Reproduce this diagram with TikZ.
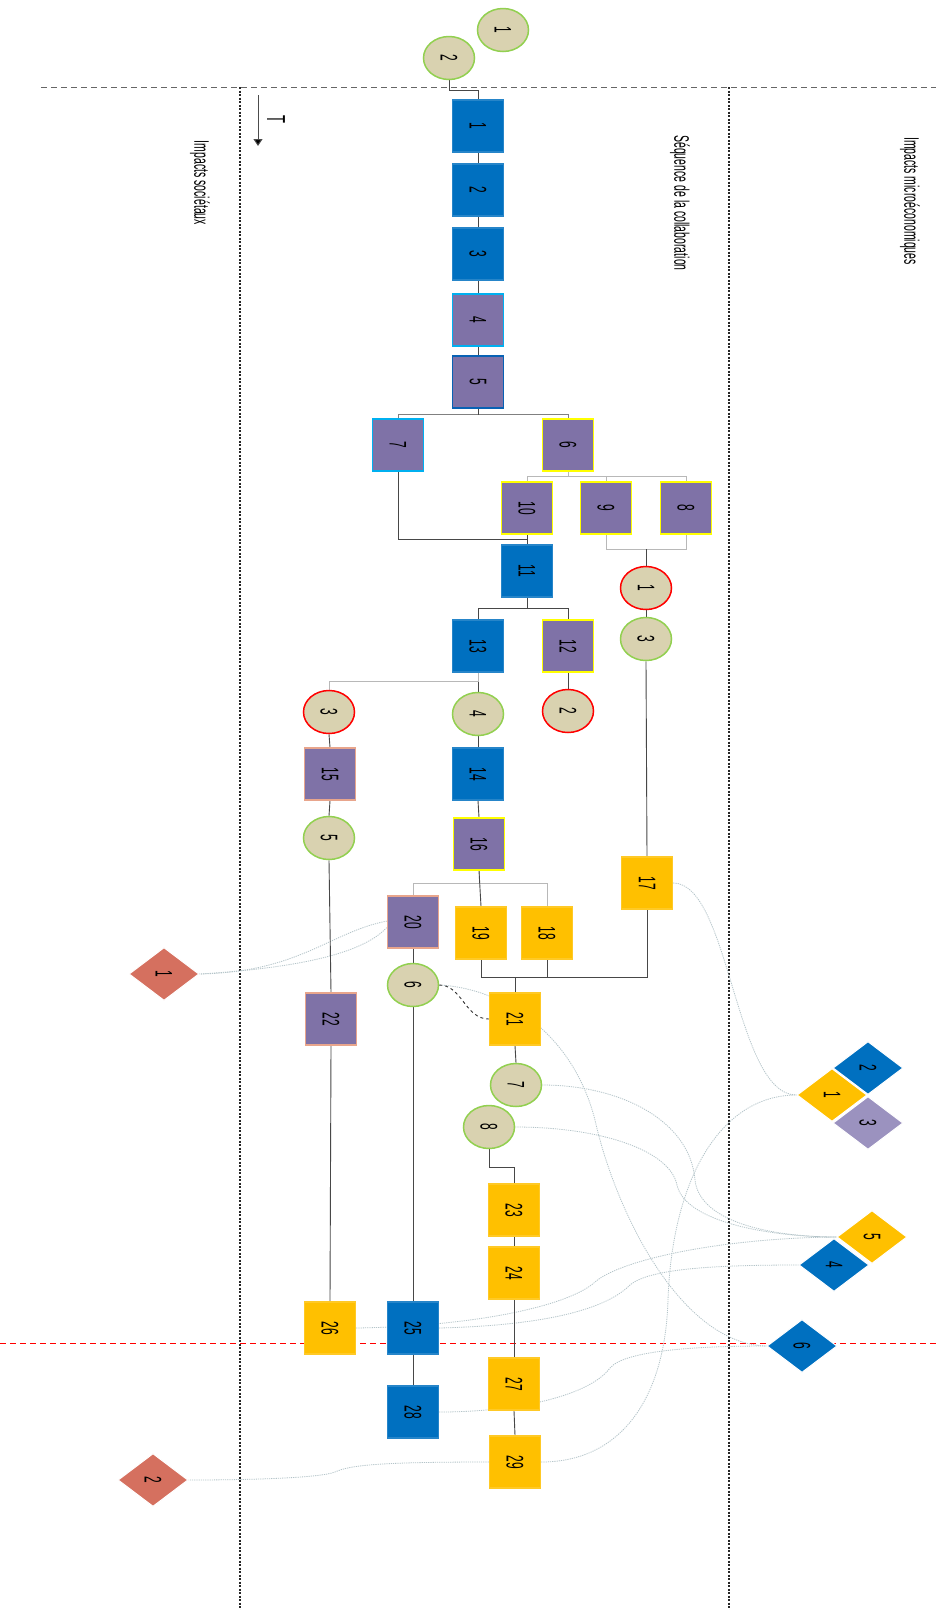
\documentclass[tikz,border=0pt]{standalone}
\usepackage{fontspec}
\setmainfont{Liberation Sans}
\usepackage{graphicx}
\usetikzlibrary{shapes.geometric,arrows.meta,calc}
\pgfdeclarelayer{bg}
\pgfsetlayers{bg,main}
\definecolor{cblue}{HTML}{0070C0}
\definecolor{cpurple}{HTML}{7F72A7}
\definecolor{cyellow}{HTML}{FFC000}
\definecolor{cbeige}{HTML}{D9D2B0}
\definecolor{cgreen}{HTML}{92D050}
\definecolor{cred}{HTML}{FF0000}
\definecolor{ccyan}{HTML}{00B0F0}
\definecolor{cdkblue}{HTML}{0862B4}
\definecolor{cyel}{HTML}{FFFF00}
\definecolor{cpeach}{HTML}{E8A58C}
\definecolor{csalmon}{HTML}{D5705F}
\definecolor{clav}{HTML}{9B92BF}
\definecolor{clink}{HTML}{B4C4C9}
\newcommand{\rt}[2][24]{\rotatebox{-90}{\scalebox{0.5}[1]{\fontsize{#1}{#1}\selectfont #2}}}
\tikzset{
  box/.style={rectangle, minimum width=51pt, minimum height=52pt, inner sep=0pt, line width=1.4pt},
  bluebox/.style={box, fill=cblue, draw=cblue!85!white},
  yelbox/.style={box, fill=cyellow, draw=cyellow!85!white},
  purbox/.style={box, fill=cpurple, draw=#1},
  circ/.style={ellipse, minimum width=51pt, minimum height=43pt, inner sep=0pt, fill=cbeige, line width=1.5pt, draw=#1},
  dia/.style={diamond, minimum width=70pt, minimum height=53pt, inner sep=0pt, fill=#1, draw=white, line width=1pt},
  dk/.style={draw=black!72, line width=0.9pt},
  lt/.style={draw=black!28, line width=0.9pt},
  md/.style={draw=black!50, line width=0.9pt},
  link/.style={draw=clink, line width=0.8pt, dash pattern=on 1.2pt off 1pt},
  sepdash/.style={draw=black!60, line width=0.9pt, dash pattern=on 6pt off 4pt},
  sepdot/.style={draw=black!85, line width=1.1pt, dash pattern=on 2pt off 1.5pt},
  reddash/.style={draw=cred, line width=0.9pt, dash pattern=on 6pt off 4pt},
}
\begin{document}
\begin{tikzpicture}[x=1pt,y=-1pt]
\useasboundingbox (0,0) rectangle (936,1610);
\begin{pgfonlayer}{bg}
\fill[white] (0,0) rectangle (936,1610);
\end{pgfonlayer}

% labels
\node (lsoc) at (200,183) {\rt[21]{Impacts sociétaux}};
\node (lseq) at (680,203) {\rt[21]{Séquence de la collaboration}};
\node (lmic) at (910,201) {\rt[21]{Impacts microéconomiques}};
\node (tl) at (276,119) {\rt[26]{T}};
\coordinate (ta) at (258,95);
\coordinate (tb) at (258,146);

% circles
\node[circ=cgreen] (c1) at (503,30) {\rt{1}};
\node[circ=cgreen] (c2) at (449,58) {\rt{2}};
\node[circ=cred] (cr1) at (646,588) {\rt{1}};
\node[circ=cgreen] (cg3) at (646,639) {\rt{3}};
\node[circ=cred] (cr2) at (568,711) {\rt{2}};
\node[circ=cred] (cr3) at (329,712) {\rt{3}};
\node[circ=cgreen] (cg4) at (478,714) {\rt{4}};
\node[circ=cgreen] (cg5) at (329,838) {\rt{5}};
\node[circ=cgreen] (cg6) at (413,985) {\rt{6}};
\node[circ=cgreen] (cg7) at (516,1085) {\rt{7}};
\node[circ=cgreen] (cg8) at (489,1127) {\rt{8}};

% boxes
\node[bluebox] (b1) at (478,126) {\rt{1}};
\node[bluebox] (b2) at (478,190) {\rt{2}};
\node[bluebox] (b3) at (478,254) {\rt{3}};
\node[purbox=ccyan] (b4) at (478,320) {\rt{4}};
\node[purbox=cdkblue] (b5) at (478,382) {\rt{5}};
\node[purbox=ccyan] (b7) at (398,445) {\rt{7}};
\node[purbox=cyel] (b6) at (568,445) {\rt{6}};
\node[purbox=cyel] (b10) at (527,508) {\rt{10}};
\node[purbox=cyel] (b9) at (606,508) {\rt{9}};
\node[purbox=cyel] (b8) at (686,508) {\rt{8}};
\node[bluebox] (b11) at (527,571) {\rt{11}};
\node[bluebox] (b13) at (478,646) {\rt{13}};
\node[purbox=cyel] (b12) at (568,646) {\rt{12}};
\node[purbox=cpeach] (b15) at (330,774) {\rt{15}};
\node[bluebox] (b14) at (478,774) {\rt{14}};
\node[purbox=cyel] (b16) at (479,844) {\rt{16}};
\node[yelbox] (b17) at (647,883) {\rt{17}};
\node[purbox=cpeach] (b20) at (413,922) {\rt{20}};
\node[yelbox] (b19) at (481,933) {\rt{19}};
\node[yelbox] (b18) at (547,933) {\rt{18}};
\node[yelbox] (b21) at (515,1019) {\rt{21}};
\node[purbox=cpeach] (b22) at (331,1019) {\rt{22}};
\node[yelbox] (b23) at (514,1210) {\rt{23}};
\node[yelbox] (b24) at (514,1273) {\rt{24}};
\node[yelbox] (b26) at (330,1328) {\rt{26}};
\node[bluebox] (b25) at (413,1328) {\rt{25}};
\node[yelbox] (b27) at (514,1384) {\rt{27}};
\node[bluebox] (b28) at (413,1412) {\rt{28}};
\node[yelbox] (b29) at (515,1462) {\rt{29}};

% diamonds
\node[dia=cyellow] (dm1) at (832,1095) {\rt{1}};
\node[dia=cblue] (dm2) at (868,1068) {\rt{2}};
\node[dia=clav] (dm3) at (868,1123) {\rt{3}};
\node[dia=cyellow] (dm5) at (872,1237) {\rt{5}};
\node[dia=cblue] (dm4) at (834,1265) {\rt{4}};
\node[dia=cblue] (dm6) at (802,1346) {\rt{6}};
\node[dia=csalmon] (ds1) at (164,974) {\rt{1}};
\node[dia=csalmon] (ds2) at (153,1480) {\rt{2}};

\coordinate (mg) at (527,539.5);
\coordinate (m98) at (646,549);
\coordinate (m21) at (515,977);

\begin{pgfonlayer}{bg}
% separators
\draw[sepdash] (41,87) -- (936,87);
\draw[sepdot] (240,87) -- (240,1610);
\draw[sepdot] (729,87) -- (729,1610);
\draw[reddash] (0,1343) -- (936,1343);
\draw[draw=black!70, line width=1pt, -{Triangle[width=9pt,length=7pt,fill=black]}] (ta) -- (tb);

% impact links
\draw[link] (b17.east) .. controls (730,883) and (735,1095) .. (dm1.west);
\draw[link] (b20.178) .. controls (330,932) and (300,972) .. (ds1.east);
\draw[link] (b20.192) .. controls (370,945) and (330,966) .. (ds1.east);
\draw[link] (cg6.east) .. controls (500,988) and (572,1030) .. (595,1120) .. controls (615,1210) and (680,1344) .. (dm6.west);
\draw[link] (cg7.east) .. controls (620,1085) and (690,1120) .. (695,1180) .. controls (700,1225) and (780,1237) .. (dm5.west);
\draw[link] (cg8.east) .. controls (600,1127) and (670,1150) .. (677,1185) .. controls (685,1222) and (770,1237) .. (dm5.west);
\draw[link] (b29.east) .. controls (620,1462) and (665,1400) .. (668,1300) .. controls (672,1180) and (720,1095) .. (dm1.west);
\draw[link] (b28.east) .. controls (520,1412) and (590,1395) .. (610,1368) .. controls (625,1350) and (700,1346) .. (dm6.west);
\draw[link] (b26.east) .. controls (480,1326) and (570,1305) .. (595,1282) .. controls (620,1260) and (720,1238) .. (dm5.west);
\draw[link] (b25.east) .. controls (560,1325) and (610,1305) .. (630,1285) .. controls (650,1268) and (720,1265) .. (dm4.west);
\draw[link] (b29.west) .. controls (380,1462) and (350,1465) .. (335,1472) .. controls (320,1478) and (250,1480) .. (ds2.east);

% sequence connectors
\draw[dk] (c2.south) -- ++(0,10.5) -| (b1.north);
\draw[dk] (b1.south) -- (b2.north);
\draw[dk] (b2.south) -- (b3.north);
\draw[dk] (b3.south) -- (b4.north);
\draw[dk] (b4.south) -- (b5.north);
\draw[md] (b5.south) -- ++(0,6) -| (b7.north);
\draw[md] (b5.south) -- ++(0,6) -| (b6.north);
\draw[dk] (b5.south) -- ++(0,6);
\draw[lt] (b6.south) -- ++(0,5) -| (b10.north);
\draw[lt] (b6.south) -- ++(0,5) -| (b9.north);
\draw[lt] (b6.south) -- ++(0,5) -| (b8.north);
\draw[dk] (b7.south) |- (mg);
\draw[dk] (b10.south) -- (b11.north);
\draw[lt] (b9.south) |- (m98) -| (b8.south);
\draw[dk] (m98) -- (cr1.north);
\draw[dk] (cr1.south) -- (cg3.north);
\draw[dk] (cg3.south) -- (b17.north);
\draw[dk] (b11.south) -- ++(0,11) -| (b13.north);
\draw[dk] (b11.south) -- ++(0,11) -| (b12.north);
\draw[dk] (b12.south) -- (cr2.north);
\draw[dk] (b13.south) -- (cg4.north);
\draw[lt] (b13.south) -- ++(0,9) -| (cr3.north);
\draw[dk] (cr3.south) -- (b15.north);
\draw[dk] (b15.south) -- (cg5.north);
\draw[dk] (cg5.south) -- (b22.north);
\draw[dk] (b22.south) -- (b26.north);
\draw[dk] (cg4.south) -- (b14.north);
\draw[dk] (b14.south) -- (b16.north);
\draw[lt] (b16.south) -- ++(0,13) -| (b20.north);
\draw[lt] (b16.south) -- ++(0,13) -| (b18.north);
\draw[dk] (b16.south) -- (b19.north);
\draw[dk] (b20.south) -- (cg6.north);
\draw[dk] (cg6.south) -- (b25.north);
\draw[dk] (b25.south) -- (b28.north);
\draw[dk] (b19.south) |- (m21) -| (b17.south);
\draw[dk] (b18.south) -- (b18.south |- m21);
\draw[dk] (m21) -- (b21.north);
\draw[dk] (b21.south) -- (cg7.north);
\draw[dk] (cg8.south) -- ++(0,18) -| (b23.north);
\draw[dk] (b23.south) -- (b24.north);
\draw[dk] (b24.south) -- (b27.north);
\draw[dk] (b27.south) -- (b29.north);
\draw[black!80, line width=0.9pt, dashed] (cg6.east) .. controls (462,985) and (465,1019) .. (b21.west);
\end{pgfonlayer}
\end{tikzpicture}
\end{document}
